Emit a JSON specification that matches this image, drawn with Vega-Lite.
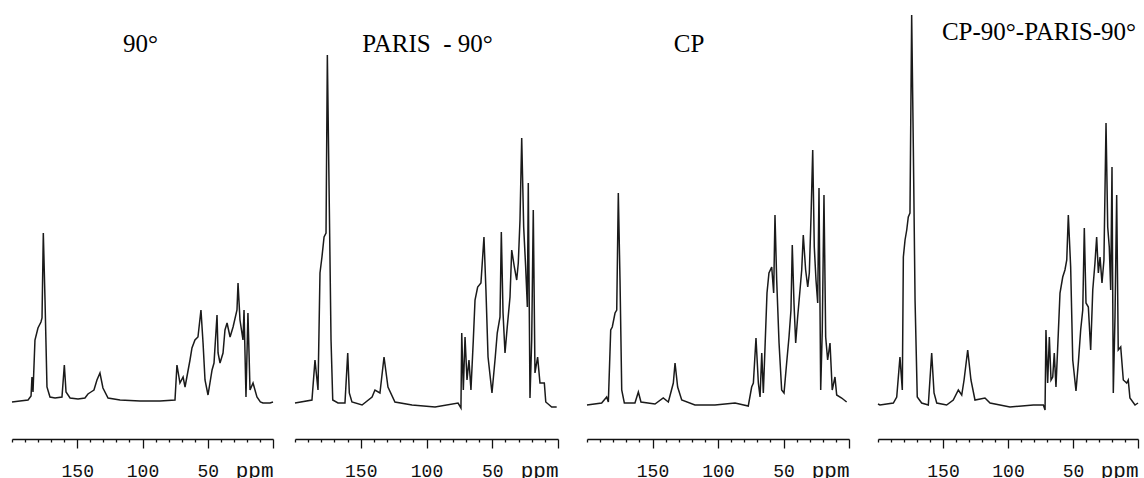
{
"$schema": "https://vega.github.io/schema/vega-lite/v6.json",
"padding": {"left": 9, "top": 9, "right": 0, "bottom": 0},
"background": "white",
"spacing": 24,
"config": {"view": {"stroke": null}},
"datasets": {
"p1": [{"ppm":200,"i":-1},{"ppm":193.9,"i":0},{"ppm":187.7,"i":1},{"ppm":185.4,"i":5},{"ppm":184.7,"i":24},{"ppm":183.9,"i":9},{"ppm":182.4,"i":61},{"ppm":180.1,"i":73},{"ppm":177.8,"i":79},{"ppm":177.0,"i":83},{"ppm":176.0,"i":168},{"ppm":174.7,"i":101},{"ppm":173.2,"i":14},{"ppm":170.9,"i":4},{"ppm":167.0,"i":3},{"ppm":161.7,"i":4},{"ppm":159.9,"i":36},{"ppm":158.6,"i":9},{"ppm":155.5,"i":3},{"ppm":149.4,"i":2},{"ppm":144.1,"i":3},{"ppm":141.8,"i":7},{"ppm":139.5,"i":9},{"ppm":137.2,"i":11},{"ppm":134.9,"i":21},{"ppm":132.6,"i":28},{"ppm":130.3,"i":13},{"ppm":126.4,"i":3},{"ppm":117.2,"i":1},{"ppm":101.9,"i":0},{"ppm":86.6,"i":0},{"ppm":75.1,"i":1},{"ppm":73.6,"i":36},{"ppm":71.3,"i":18},{"ppm":68.9,"i":24},{"ppm":67.4,"i":14},{"ppm":63.6,"i":41},{"ppm":62.1,"i":53},{"ppm":59.8,"i":61},{"ppm":57.5,"i":64},{"ppm":55.2,"i":91},{"ppm":53.6,"i":58},{"ppm":52.1,"i":21},{"ppm":49.8,"i":6},{"ppm":46.7,"i":31},{"ppm":45.2,"i":38},{"ppm":42.9,"i":86},{"ppm":42.1,"i":48},{"ppm":40.6,"i":38},{"ppm":38.3,"i":48},{"ppm":36.8,"i":71},{"ppm":35.2,"i":78},{"ppm":32.9,"i":64},{"ppm":30.6,"i":74},{"ppm":27.6,"i":91},{"ppm":26.8,"i":118},{"ppm":25.3,"i":81},{"ppm":23.0,"i":61},{"ppm":22.2,"i":91},{"ppm":20.7,"i":4},{"ppm":19.2,"i":88},{"ppm":17.6,"i":11},{"ppm":15.3,"i":18},{"ppm":12.3,"i":4},{"ppm":9.7,"i":-1},{"ppm":7.7,"i":-2},{"ppm":2.3,"i":-2},{"ppm":0,"i":-1}],
"p2": [{"ppm":200,"i":-2},{"ppm":187.1,"i":1},{"ppm":184.8,"i":41},{"ppm":182.5,"i":11},{"ppm":181.0,"i":128},{"ppm":179.5,"i":144},{"ppm":177.9,"i":164},{"ppm":176.4,"i":168},{"ppm":175.4,"i":346},{"ppm":173.9,"i":194},{"ppm":172.6,"i":61},{"ppm":171.3,"i":1},{"ppm":167.3,"i":-2},{"ppm":162.0,"i":-2},{"ppm":159.9,"i":48},{"ppm":158.7,"i":8},{"ppm":156.7,"i":-1},{"ppm":149.0,"i":-4},{"ppm":141.4,"i":4},{"ppm":139.2,"i":11},{"ppm":135.4,"i":8},{"ppm":132.3,"i":44},{"ppm":129.3,"i":14},{"ppm":124.0,"i":-1},{"ppm":111.0,"i":-4},{"ppm":93.5,"i":-6},{"ppm":76.0,"i":-2},{"ppm":73.8,"i":-7},{"ppm":73.2,"i":68},{"ppm":72.0,"i":11},{"ppm":70.7,"i":64},{"ppm":69.2,"i":21},{"ppm":67.7,"i":41},{"ppm":66.2,"i":11},{"ppm":64.4,"i":61},{"ppm":63.1,"i":101},{"ppm":61.1,"i":114},{"ppm":58.6,"i":118},{"ppm":56.3,"i":164},{"ppm":54.8,"i":111},{"ppm":53.2,"i":44},{"ppm":50.2,"i":8},{"ppm":47.7,"i":44},{"ppm":46.2,"i":68},{"ppm":44.1,"i":84},{"ppm":43.1,"i":169},{"ppm":41.8,"i":88},{"ppm":40.3,"i":48},{"ppm":38.6,"i":74},{"ppm":36.5,"i":104},{"ppm":35.2,"i":151},{"ppm":33.2,"i":134},{"ppm":31.4,"i":121},{"ppm":30.2,"i":138},{"ppm":28.9,"i":181},{"ppm":27.6,"i":263},{"ppm":26.1,"i":174},{"ppm":24.6,"i":134},{"ppm":23.3,"i":94},{"ppm":22.6,"i":218},{"ppm":21.3,"i":3},{"ppm":20.0,"i":61},{"ppm":18.8,"i":191},{"ppm":17.5,"i":28},{"ppm":15.5,"i":44},{"ppm":13.7,"i":18},{"ppm":10.4,"i":18},{"ppm":9.3,"i":-1},{"ppm":4.8,"i":-6},{"ppm":1.0,"i":-6}],
"p3": [{"ppm":200,"i":-4},{"ppm":188.8,"i":-2},{"ppm":185.0,"i":4},{"ppm":183.7,"i":-1},{"ppm":181.9,"i":71},{"ppm":180.7,"i":74},{"ppm":178.6,"i":88},{"ppm":177.3,"i":91},{"ppm":176.1,"i":208},{"ppm":174.8,"i":121},{"ppm":173.5,"i":11},{"ppm":171.5,"i":-2},{"ppm":163.4,"i":-2},{"ppm":160.8,"i":9},{"ppm":158.8,"i":-1},{"ppm":148.1,"i":-3},{"ppm":141.8,"i":3},{"ppm":137.9,"i":-1},{"ppm":134.1,"i":18},{"ppm":132.8,"i":38},{"ppm":130.8,"i":14},{"ppm":127.7,"i":1},{"ppm":117.6,"i":-4},{"ppm":102.3,"i":-4},{"ppm":87.0,"i":-2},{"ppm":76.9,"i":-5},{"ppm":74.3,"i":14},{"ppm":73.0,"i":18},{"ppm":71.0,"i":63},{"ppm":69.2,"i":18},{"ppm":67.9,"i":4},{"ppm":66.6,"i":48},{"ppm":65.4,"i":8},{"ppm":64.1,"i":54},{"ppm":62.6,"i":108},{"ppm":61.1,"i":128},{"ppm":59.0,"i":134},{"ppm":57.5,"i":108},{"ppm":56.5,"i":186},{"ppm":55.2,"i":121},{"ppm":53.4,"i":58},{"ppm":51.4,"i":11},{"ppm":49.6,"i":8},{"ppm":47.6,"i":38},{"ppm":45.8,"i":64},{"ppm":44.3,"i":91},{"ppm":43.3,"i":156},{"ppm":42.0,"i":98},{"ppm":40.7,"i":58},{"ppm":39.2,"i":84},{"ppm":37.4,"i":111},{"ppm":36.1,"i":131},{"ppm":34.9,"i":166},{"ppm":33.1,"i":131},{"ppm":31.5,"i":114},{"ppm":30.3,"i":128},{"ppm":29.0,"i":184},{"ppm":27.7,"i":251},{"ppm":26.5,"i":154},{"ppm":25.2,"i":121},{"ppm":23.9,"i":98},{"ppm":22.9,"i":213},{"ppm":21.6,"i":11},{"ppm":20.4,"i":71},{"ppm":19.1,"i":206},{"ppm":17.8,"i":64},{"ppm":16.3,"i":41},{"ppm":14.5,"i":58},{"ppm":12.8,"i":11},{"ppm":10.7,"i":24},{"ppm":9.4,"i":6},{"ppm":5.6,"i":3},{"ppm":1.8,"i":-1}],
"p4": [{"ppm":200,"i":-3},{"ppm":198.5,"i":-4},{"ppm":188.2,"i":-2},{"ppm":185.6,"i":4},{"ppm":183.1,"i":44},{"ppm":181.3,"i":11},{"ppm":180.5,"i":144},{"ppm":179.2,"i":161},{"ppm":177.9,"i":171},{"ppm":176.7,"i":184},{"ppm":175.4,"i":188},{"ppm":174.1,"i":386},{"ppm":172.8,"i":251},{"ppm":171.5,"i":101},{"ppm":169.8,"i":4},{"ppm":166.4,"i":-2},{"ppm":161.3,"i":-4},{"ppm":158.7,"i":48},{"ppm":156.9,"i":8},{"ppm":154.8,"i":-2},{"ppm":147.2,"i":-4},{"ppm":142.1,"i":1},{"ppm":138.2,"i":11},{"ppm":135.6,"i":6},{"ppm":133.8,"i":21},{"ppm":131.0,"i":51},{"ppm":128.5,"i":21},{"ppm":125.4,"i":1},{"ppm":117.7,"i":3},{"ppm":113.8,"i":-2},{"ppm":98.5,"i":-6},{"ppm":80.5,"i":-4},{"ppm":72.8,"i":-4},{"ppm":71.5,"i":-9},{"ppm":70.8,"i":71},{"ppm":69.5,"i":18},{"ppm":68.2,"i":64},{"ppm":66.9,"i":21},{"ppm":65.6,"i":24},{"ppm":64.4,"i":48},{"ppm":63.1,"i":14},{"ppm":61.3,"i":68},{"ppm":60.0,"i":108},{"ppm":57.9,"i":124},{"ppm":56.2,"i":131},{"ppm":54.8,"i":141},{"ppm":53.6,"i":186},{"ppm":51.8,"i":134},{"ppm":50.2,"i":41},{"ppm":47.7,"i":10},{"ppm":45.9,"i":38},{"ppm":44.1,"i":71},{"ppm":42.5,"i":91},{"ppm":41.3,"i":173},{"ppm":40.0,"i":98},{"ppm":38.2,"i":94},{"ppm":36.4,"i":51},{"ppm":34.8,"i":111},{"ppm":33.1,"i":138},{"ppm":31.8,"i":164},{"ppm":30.5,"i":128},{"ppm":29.2,"i":144},{"ppm":27.7,"i":118},{"ppm":26.2,"i":141},{"ppm":24.6,"i":278},{"ppm":23.3,"i":174},{"ppm":22.1,"i":154},{"ppm":21.0,"i":111},{"ppm":20.0,"i":234},{"ppm":19.0,"i":8},{"ppm":17.7,"i":84},{"ppm":16.4,"i":206},{"ppm":15.2,"i":51},{"ppm":13.3,"i":54},{"ppm":11.3,"i":21},{"ppm":8.7,"i":18},{"ppm":7.5,"i":21},{"ppm":6.2,"i":3},{"ppm":2.3,"i":-4},{"ppm":0,"i":-2}]
},
"hconcat": [
{"hconcat": [
{"width": 261, "height": 430,
 "title": {"text": "90°", "offset": -48, "frame": "group", "anchor": "middle", "dx": -2, "font": "Liberation Serif", "fontSize": 25, "fontWeight": "normal", "color": "#000"},
 "data": {"name": "p1"},
 "mark": {"type": "line", "color": "#1a1a1a", "strokeWidth": 1.5},
 "encoding": {
  "x": {"field": "ppm", "type": "quantitative", "scale": {"domain": [0, 200], "reverse": true, "nice": false, "zero": false},
   "axis": {"values": [0,10,20,30,40,50,60,70,80,90,100,110,120,130,140,150,160,170,180,190,200], "labelExpr": "datum.value == 0 ? 'ppm' : (datum.value == 50 || datum.value == 100 || datum.value == 150) ? datum.label : ''", "labelFont": "Liberation Mono", "labelFontSize": {"condition": {"test": "datum.value == 0", "value": 21}, "value": 18}, "labelAlign": {"condition": {"test": "datum.value == 0", "value": "right"}, "value": "center"}, "labelBaseline": "alphabetic", "labelPadding": 28, "labelColor": "#111", "tickSize": {"condition": {"test": "datum.value % 50 == 0 && datum.value < 200", "value": 9}, "value": 3}, "tickColor": "#111", "tickWidth": 1.3, "domainColor": "#111", "domainWidth": 1.5, "grid": false, "title": null, "labelOverlap": false, "labelFlush": false}},
  "y": {"field": "i", "type": "quantitative", "scale": {"domain": [-38, 392], "nice": false, "zero": false}, "axis": null}
 }},
{"width": 263, "height": 430,
 "title": {"text": "PARIS\u00a0\u00a0- 90°", "offset": -48, "frame": "group", "anchor": "middle", "dx": 1, "font": "Liberation Serif", "fontSize": 25, "fontWeight": "normal", "color": "#000"},
 "data": {"name": "p2"},
 "mark": {"type": "line", "color": "#1a1a1a", "strokeWidth": 1.5},
 "encoding": {
  "x": {"field": "ppm", "type": "quantitative", "scale": {"domain": [0, 200], "reverse": true, "nice": false, "zero": false},
   "axis": {"values": [0,10,20,30,40,50,60,70,80,90,100,110,120,130,140,150,160,170,180,190,200], "labelExpr": "datum.value == 0 ? 'ppm' : (datum.value == 50 || datum.value == 100 || datum.value == 150) ? datum.label : ''", "labelFont": "Liberation Mono", "labelFontSize": {"condition": {"test": "datum.value == 0", "value": 21}, "value": 18}, "labelAlign": {"condition": {"test": "datum.value == 0", "value": "right"}, "value": "center"}, "labelBaseline": "alphabetic", "labelPadding": 28, "labelColor": "#111", "tickSize": {"condition": {"test": "datum.value % 50 == 0 && datum.value < 200", "value": 9}, "value": 3}, "tickColor": "#111", "tickWidth": 1.3, "domainColor": "#111", "domainWidth": 1.5, "grid": false, "title": null, "labelOverlap": false, "labelFlush": false}},
  "y": {"field": "i", "type": "quantitative", "scale": {"domain": [-38, 392], "nice": false, "zero": false}, "axis": null}
 }}
], "spacing": 22, "bounds": "flush"},
{"hconcat": [
{"width": 262, "height": 430,
 "title": {"text": "CP", "offset": -48, "frame": "group", "anchor": "middle", "dx": -29, "font": "Liberation Serif", "fontSize": 25, "fontWeight": "normal", "color": "#000"},
 "data": {"name": "p3"},
 "mark": {"type": "line", "color": "#1a1a1a", "strokeWidth": 1.5},
 "encoding": {
  "x": {"field": "ppm", "type": "quantitative", "scale": {"domain": [0, 200], "reverse": true, "nice": false, "zero": false},
   "axis": {"values": [0,10,20,30,40,50,60,70,80,90,100,110,120,130,140,150,160,170,180,190,200], "labelExpr": "datum.value == 0 ? 'ppm' : (datum.value == 50 || datum.value == 100 || datum.value == 150) ? datum.label : ''", "labelFont": "Liberation Mono", "labelFontSize": {"condition": {"test": "datum.value == 0", "value": 21}, "value": 18}, "labelAlign": {"condition": {"test": "datum.value == 0", "value": "right"}, "value": "center"}, "labelBaseline": "alphabetic", "labelPadding": 28, "labelColor": "#111", "tickSize": {"condition": {"test": "datum.value % 50 == 0 && datum.value < 200", "value": 9}, "value": 3}, "tickColor": "#111", "tickWidth": 1.3, "domainColor": "#111", "domainWidth": 1.5, "grid": false, "title": null, "labelOverlap": false, "labelFlush": false}},
  "y": {"field": "i", "type": "quantitative", "scale": {"domain": [-38, 392], "nice": false, "zero": false}, "axis": null}
 }},
{"width": 260, "height": 430,
 "title": {"text": "CP-90°-PARIS-90°", "offset": -36, "frame": "group", "anchor": "middle", "dx": 31, "font": "Liberation Serif", "fontSize": 25, "fontWeight": "normal", "color": "#000"},
 "data": {"name": "p4"},
 "mark": {"type": "line", "color": "#1a1a1a", "strokeWidth": 1.5},
 "encoding": {
  "x": {"field": "ppm", "type": "quantitative", "scale": {"domain": [0, 200], "reverse": true, "nice": false, "zero": false},
   "axis": {"values": [0,10,20,30,40,50,60,70,80,90,100,110,120,130,140,150,160,170,180,190,200], "labelExpr": "datum.value == 0 ? 'ppm' : (datum.value == 50 || datum.value == 100 || datum.value == 150) ? datum.label : ''", "labelFont": "Liberation Mono", "labelFontSize": {"condition": {"test": "datum.value == 0", "value": 21}, "value": 18}, "labelAlign": {"condition": {"test": "datum.value == 0", "value": "right"}, "value": "center"}, "labelBaseline": "alphabetic", "labelPadding": 28, "labelColor": "#111", "tickSize": {"condition": {"test": "datum.value % 50 == 0 && datum.value < 200", "value": 9}, "value": 3}, "tickColor": "#111", "tickWidth": 1.3, "domainColor": "#111", "domainWidth": 1.5, "grid": false, "title": null, "labelOverlap": false, "labelFlush": false}},
  "y": {"field": "i", "type": "quantitative", "scale": {"domain": [-38, 392], "nice": false, "zero": false}, "axis": null}
 }}
], "spacing": 29, "bounds": "flush"}
]
}
